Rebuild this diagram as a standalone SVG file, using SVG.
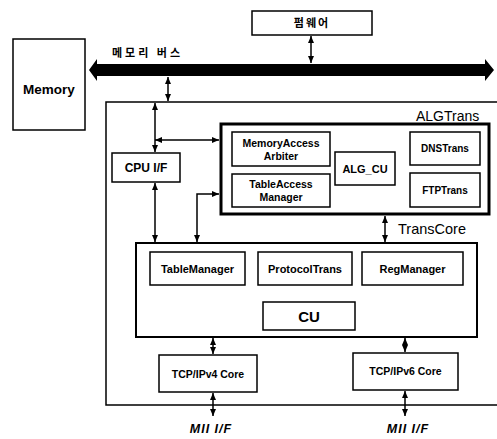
<svg xmlns="http://www.w3.org/2000/svg" width="497" height="439" viewBox="0 0 497 439">
<style>
.box{fill:#fff;stroke:#000;stroke-width:1.5}
.thick{fill:#fff;stroke:#000;stroke-width:3}
.mid{fill:#fff;stroke:#000;stroke-width:2}
.lbl{font-family:"Liberation Sans",Arial,sans-serif;font-weight:bold;fill:#000;text-anchor:middle}
.plain{font-family:"Liberation Sans",Arial,sans-serif;fill:#000}
.kr{font-family:"Noto Sans CJK KR","Noto Sans",sans-serif;font-weight:bold;fill:#000}
.con{fill:none;stroke:#000;stroke-width:1.5}
</style>
<defs>
<marker id="ah" markerUnits="userSpaceOnUse" markerWidth="7" markerHeight="6" refX="7" refY="3" orient="auto-start-reverse">
<path d="M0,0 L7,3 L0,6 z" fill="#000"/>
</marker>
</defs>
<rect width="497" height="439" fill="#fff"/>

<g id="outer">
<path d="M497,102 H106 V405 H497" fill="none" stroke="#000" stroke-width="1.5"/>
<text class="plain" x="416" y="121" font-size="14">ALGTrans</text>
<text class="plain" x="398" y="234" font-size="14.5">TransCore</text>
</g>

<g id="bus">
<polygon points="89,70 97,59 97,64 485,64 485,59 494,70 485,81 485,76 97,76 97,81" fill="#000"/>
<text class="kr" x="112" y="57" font-size="11" letter-spacing="3">메모리 버스</text>
</g>

<g id="firmware">
<rect class="box" x="252" y="11" width="120" height="24"/>
<text class="kr" x="312" y="27" font-size="11" letter-spacing="2" text-anchor="middle">펌웨어</text>
</g>

<g id="memory">
<rect class="box" x="13" y="39" width="72" height="91"/>
<text class="lbl" x="49" y="94" font-size="13.5">Memory</text>
</g>

<g id="cpuif">
<rect class="box" x="112" y="153" width="68" height="29"/>
<text class="lbl" x="146" y="172" font-size="12">CPU I/F</text>
</g>

<g id="algtrans">
<rect class="thick" x="221" y="124" width="268" height="90"/>
</g>
<g id="memaccess">
<rect class="box" x="232" y="132" width="98" height="34"/>
<text class="lbl" x="281" y="147" font-size="10.5">MemoryAccess</text>
<text class="lbl" x="281" y="160" font-size="10.5">Arbiter</text>
</g>
<g id="tableaccess">
<rect class="box" x="232" y="174" width="98" height="33"/>
<text class="lbl" x="281" y="188" font-size="10.5">TableAccess</text>
<text class="lbl" x="281" y="201" font-size="10.5">Manager</text>
</g>
<g id="algcu">
<rect class="box" x="335" y="152" width="60" height="33"/>
<text class="lbl" x="365" y="173" font-size="11">ALG_CU</text>
</g>
<g id="dnstrans">
<rect class="box" x="410" y="132" width="70" height="33"/>
<text class="lbl" x="445" y="152" font-size="10">DNSTrans</text>
</g>
<g id="ftptrans">
<rect class="box" x="410" y="173" width="70" height="34"/>
<text class="lbl" x="445" y="194" font-size="10">FTPTrans</text>
</g>

<g id="transcore">
<rect class="mid" x="136" y="243" width="341" height="94"/>
</g>
<g id="tablemanager">
<rect class="box" x="150" y="252" width="95" height="33"/>
<text class="lbl" x="197.5" y="273" font-size="11">TableManager</text>
</g>
<g id="protocoltrans">
<rect class="box" x="258" y="252" width="94" height="33"/>
<text class="lbl" x="305" y="273" font-size="11">ProtocolTrans</text>
</g>
<g id="regmanager">
<rect class="box" x="362" y="252" width="101" height="33"/>
<text class="lbl" x="412.5" y="273" font-size="11">RegManager</text>
</g>
<g id="cu">
<rect class="box" x="263" y="302" width="92" height="28"/>
<text class="lbl" x="309" y="322" font-size="15">CU</text>
</g>

<g id="tcpipv4">
<rect class="box" x="159" y="355" width="98" height="37"/>
<text class="lbl" x="208" y="378" font-size="10.5">TCP/IPv4 Core</text>
</g>
<g id="tcpipv6">
<rect class="box" x="353" y="353" width="105" height="37"/>
<text class="lbl" x="405.5" y="375" font-size="10.5">TCP/IPv6 Core</text>
</g>

<g id="mii1">
<text class="lbl" x="211" y="433" font-size="12.5" font-style="italic" letter-spacing="1">MII I/F</text>
</g>
<g id="mii2">
<text class="lbl" x="408" y="433" font-size="12.5" font-style="italic" letter-spacing="1">MII I/F</text>
</g>

<g id="connectors">
<line class="con" x1="311" y1="36" x2="311" y2="63" marker-start="url(#ah)" marker-end="url(#ah)"/>
<line class="con" x1="168" y1="77" x2="168" y2="101" marker-start="url(#ah)" marker-end="url(#ah)"/>
<line class="con" x1="155" y1="103" x2="155" y2="152" marker-start="url(#ah)" marker-end="url(#ah)"/>
<line class="con" x1="155" y1="140" x2="219" y2="140" marker-start="url(#ah)" marker-end="url(#ah)"/>
<line class="con" x1="155" y1="183" x2="155" y2="242" marker-start="url(#ah)" marker-end="url(#ah)"/>
<polyline class="con" points="219,194 197,194 197,242" marker-start="url(#ah)" marker-end="url(#ah)"/>
<line class="con" x1="385" y1="216" x2="385" y2="242" marker-start="url(#ah)" marker-end="url(#ah)"/>
<line class="con" x1="213" y1="338" x2="213" y2="354" marker-start="url(#ah)" marker-end="url(#ah)"/>
<line class="con" x1="405" y1="338" x2="405" y2="352" marker-start="url(#ah)" marker-end="url(#ah)"/>
<line class="con" x1="213" y1="393" x2="213" y2="416" marker-start="url(#ah)" marker-end="url(#ah)"/>
<line class="con" x1="405" y1="391" x2="405" y2="416" marker-start="url(#ah)" marker-end="url(#ah)"/>
</g>
</svg>
